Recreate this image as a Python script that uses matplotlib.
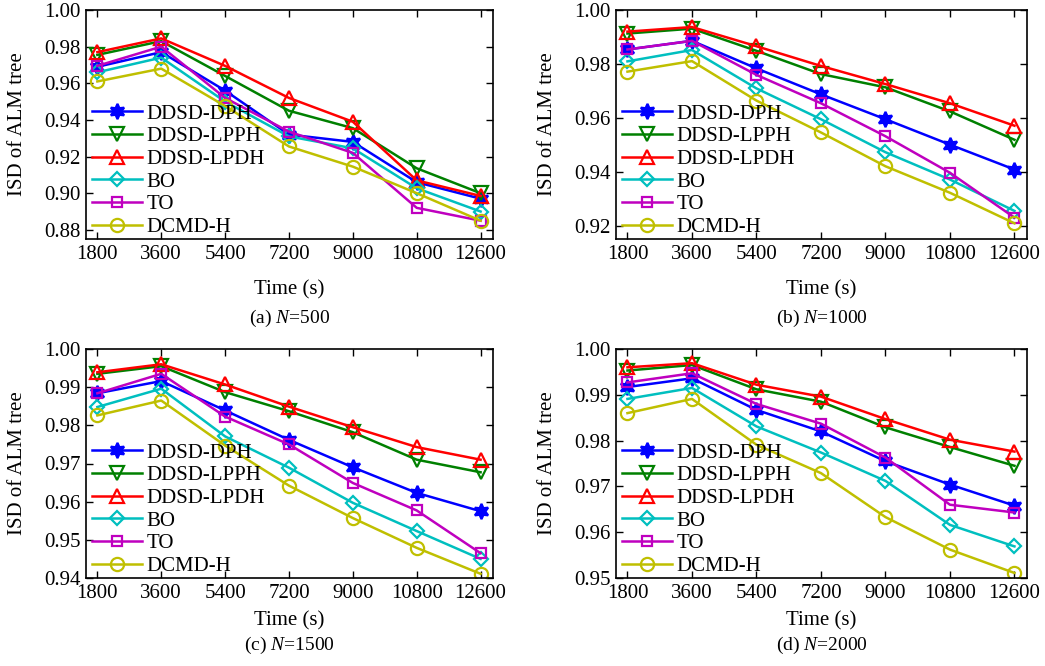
import matplotlib
matplotlib.use("Agg")
import matplotlib.pyplot as plt
from matplotlib.ticker import FormatStrFormatter

plt.rcParams['font.family'] = ['Liberation Serif', 'DejaVu Serif']
plt.rcParams['mathtext.fontset'] = 'custom'
plt.rcParams['mathtext.it'] = 'Liberation Serif:italic'
plt.rcParams['mathtext.rm'] = 'Liberation Serif'

times = [1800, 3600, 5400, 7200, 9000, 10800, 12600]
series_names = ["DDSD-DPH", "DDSD-LPPH", "DDSD-LPDH", "BO", "TO", "DCMD-H"]

# (a) N=500
a_dph  = [0.969, 0.977, 0.956, 0.932, 0.928, 0.906, 0.897]
a_lpph = [0.9755, 0.983, 0.964, 0.945, 0.9355, 0.9136, 0.900]
a_lpdh = [0.977, 0.9845, 0.9695, 0.952, 0.939, 0.907, 0.8985]
a_bo   = [0.966, 0.974, 0.950, 0.931, 0.9245, 0.9027, 0.890]
a_to   = [0.9695, 0.980, 0.952, 0.9336, 0.922, 0.892, 0.885]
a_dcmd = [0.961, 0.968, 0.9476, 0.9255, 0.9145, 0.900, 0.885]

# (b) N=1000
b_dph  = [0.9854, 0.9886, 0.9784, 0.9688, 0.9596, 0.9502, 0.941]
b_lpph = [0.9913, 0.9931, 0.9849, 0.9763, 0.9714, 0.9625, 0.952]
b_lpdh = [0.992, 0.9937, 0.9866, 0.9793, 0.9726, 0.9655, 0.9572]
b_bo   = [0.981, 0.9852, 0.971, 0.9596, 0.9474, 0.9373, 0.9257]
b_to   = [0.9854, 0.9886, 0.976, 0.9655, 0.9533, 0.9398, 0.9232]
b_dcmd = [0.9772, 0.9811, 0.9665, 0.9547, 0.9422, 0.9324, 0.9211]

# (c) N=1500
c_dph  = [0.9884, 0.9916, 0.9839, 0.9762, 0.969, 0.9623, 0.9575]
c_lpph = [0.9935, 0.9955, 0.9887, 0.9837, 0.9782, 0.971, 0.9677]
c_lpdh = [0.9939, 0.996, 0.9907, 0.9849, 0.9795, 0.9743, 0.971]
c_bo   = [0.9848, 0.9896, 0.9771, 0.9689, 0.9597, 0.9523, 0.945]
c_to   = [0.9884, 0.9935, 0.9823, 0.975, 0.9649, 0.9577, 0.9465]
c_dcmd = [0.9826, 0.9865, 0.9747, 0.9642, 0.9557, 0.9479, 0.9411]

# (d) N=2000
d_dph  = [0.9917, 0.9936, 0.9867, 0.982, 0.9755, 0.9704, 0.9658]
d_lpph = [0.9953, 0.9965, 0.9912, 0.9885, 0.9829, 0.9786, 0.9745]
d_lpdh = [0.996, 0.9969, 0.9922, 0.9896, 0.9847, 0.9802, 0.9776]
d_bo   = [0.9891, 0.9915, 0.9831, 0.9774, 0.9712, 0.9616, 0.9569]
d_to   = [0.9927, 0.9947, 0.988, 0.9837, 0.9763, 0.966, 0.9643]
d_dcmd = [0.986, 0.9891, 0.9791, 0.9729, 0.9633, 0.9562, 0.9511]

captions = ["(a) $N$=500", "(b) $N$=1000", "(c) $N$=1500", "(d) $N$=2000"]
yticks_list = [
    [0.88, 0.90, 0.92, 0.94, 0.96, 0.98, 1.00],
    [0.92, 0.94, 0.96, 0.98, 1.00],
    [0.94, 0.95, 0.96, 0.97, 0.98, 0.99, 1.00],
    [0.95, 0.96, 0.97, 0.98, 0.99, 1.00],
]
ylims = [(0.875, 1.00), (0.9153, 1.00), (0.94, 1.00), (0.95, 1.00)]

colors = ['#0000ff', '#008000', '#ff0000', '#00bfbf', '#bf00bf', '#bfbf00']
markers = [(6, 1, 0), 'v', '^', 'D', 's', 'o']
msizes = [11, 9.5, 9.5, 7.5, 7.5, 9.5]

panels = [
    [a_dph, a_lpph, a_lpdh, a_bo, a_to, a_dcmd],
    [b_dph, b_lpph, b_lpdh, b_bo, b_to, b_dcmd],
    [c_dph, c_lpph, c_lpdh, c_bo, c_to, c_dcmd],
    [d_dph, d_lpph, d_lpdh, d_bo, d_to, d_dcmd],
]

W, H = 1045, 666
fig = plt.figure(figsize=(W / 100, H / 100), dpi=100)
fig.patch.set_facecolor('white')

# axes boxes in pixels: left, top, right, bottom
boxes = [(86, 10, 493, 239), (616, 10, 1027, 239),
         (86, 349, 493, 578), (616, 349, 1027, 578)]
xlabel_pads = [12, 12, 6, 6]
caption_offsets = [79, 79, 67, 67]

fs = 15
for i, (box, data) in enumerate(zip(boxes, panels)):
    l, t, r, b = box
    ax = fig.add_axes([l / W, 1 - b / H, (r - l) / W, (b - t) / H])
    for j, ys in enumerate(data):
        filled = (j == 0)
        ax.plot(times, ys, color=colors[j], lw=1.8, marker=markers[j],
                ms=msizes[j], mew=1.6,
                mfc=colors[j] if filled else 'none', mec=colors[j],
                label=series_names[j])
    ax.set_xlim(1480, 12950)
    ax.set_ylim(*ylims[i])
    ax.set_xticks(times)
    ax.set_yticks(yticks_list[i])
    ax.yaxis.set_major_formatter(FormatStrFormatter('%.2f'))
    ax.tick_params(direction='in', top=True, right=True, length=5, width=1,
                   labelsize=fs, pad=4)
    for s in ax.spines.values():
        s.set_linewidth(1.2)
    ax.set_ylabel("ISD of ALM tree", fontsize=fs, labelpad=12)
    ax.set_xlabel("Time (s)", fontsize=fs, labelpad=xlabel_pads[i])
    ax.legend(loc='lower left', bbox_to_anchor=(0.005, -0.01), frameon=False,
              fontsize=fs, handlelength=2.4, handletextpad=0.2,
              labelspacing=0.15, borderpad=0.2, borderaxespad=0.0)
    cx = (l + r) / 2 / W
    cy = 1 - (b + caption_offsets[i]) / H
    fig.text(cx, cy, captions[i], ha='center', va='center', fontsize=fs - 1)

fig.savefig("out.png", dpi=100, facecolor='white')
